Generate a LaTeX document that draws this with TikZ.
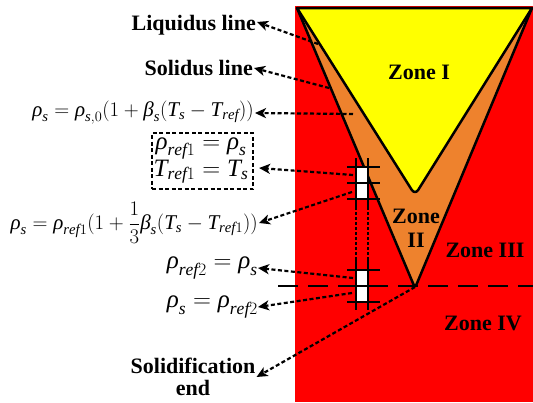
\documentclass[tikz,border=0pt]{standalone}
\usepackage{amsmath}
\usepackage{fontspec}
\setmainfont{Liberation Serif}
\usetikzlibrary{arrows.meta}
\definecolor{zyellow}{RGB}{255,255,0}
\definecolor{zorange}{RGB}{238,130,45}
\definecolor{zred}{RGB}{255,0,0}
\newcommand\gr{\text{\itshape ρ}}
\newcommand\gbt{\text{\itshape β}}
\newcommand\mT{\mathit{T}}
\tikzset{
  lbl/.style={font=\fontsize{22}{24}\selectfont\bfseries, inner sep=1pt},
  eqn/.style={font=\fontsize{21}{24}\selectfont, inner sep=1pt},
  eqbig/.style={font=\fontsize{25}{28}\selectfont, inner sep=0pt},
  zone/.style={font=\fontsize{22}{26}\selectfont\bfseries, align=center, inner sep=0pt},
  dsh/.style={dash pattern=on 4pt off 2.5pt, line width=2.2pt},
  ptr/.style={dsh, -{Stealth[length=11pt,width=10pt,inset=3pt]}},
  outl/.style={line width=2.5pt, line join=round},
  gridl/.style={line width=2.5pt},
}
\begin{document}
\begin{tikzpicture}[x=1pt,y=-1pt]
\useasboundingbox (0,0) rectangle (533,402);
% background regions
\fill[zred] (295,6) rectangle (533,402);
\filldraw[fill=zorange, outl] (297,8) -- (532,8) [rounded corners=4pt] -- (415,288) [sharp corners] -- cycle;
\filldraw[fill=zyellow, outl] (297,8) -- (532,8) [rounded corners=6pt] -- (415,195) [sharp corners] -- cycle;
% dashed horizontal line
\draw[line width=2.5pt, dash pattern=on 20pt off 10pt] (278,286) -- (533,286);
% grid marks
\fill[white] (357,167) rectangle (368,199);
\fill[white] (357,270) rectangle (368,302);
\foreach \yy in {167,183,199,270,286,302}
  \draw[gridl] (347,\yy) -- (380,\yy);
\foreach \xx in {356,368} {
  \draw[gridl] (\xx,158) -- (\xx,207);
  \draw[gridl] (\xx,259) -- (\xx,310);
  \draw[line width=2.2pt, dash pattern=on 2.5pt off 2.5pt] (\xx,207) -- (\xx,259);
}
% zone labels
\node[zone] (z1) at (419,72) {Zone I};
\node[zone] (z2) at (416,228) {Zone\\[-2pt]II};
\node[zone] (z3) at (485,250) {Zone III};
\node[zone] (z4) at (483,323) {Zone IV};
% left labels
\node[lbl, anchor=east] (liq) at (257,25) {Liquidus line};
\node[lbl, anchor=east] (sol) at (254,68) {Solidus line};
\node[eqn, anchor=east] (eq1) at (255,113) {$\gr_{\mathit{s}}=\gr_{\mathit{s},0}(1+\gbt_{\mathit{s}}(\mT_{\mathit{s}}-\mT_{\mathit{ref}}))$};
\node[draw, dsh, minimum width=101pt, minimum height=56pt, inner sep=0pt] (box) at (202.5,161) {};
\node[eqbig, anchor=base] (r1) at (201,149) {$\gr_{\mathit{ref}1}=\gr_{\mathit{s}}$};
\node[eqbig, anchor=base] (r2) at (201,176) {$\mT_{\mathit{ref}1}=\mT_{\mathit{s}}$};
\node[eqn, anchor=east] (eq2) at (259,223) {$\gr_{\mathit{s}}=\gr_{\mathit{ref}1}(1+\dfrac{1}{3}\gbt_{\mathit{s}}(\mT_{\mathit{s}}-\mT_{\mathit{ref}1}))$};
\node[eqbig, anchor=east] (eq3) at (258,268) {$\gr_{\mathit{ref}2}=\gr_{\mathit{s}}$};
\node[eqbig, anchor=east] (eq4) at (258,307) {$\gr_{\mathit{s}}=\gr_{\mathit{ref}2}$};
\node[lbl, align=center] (send) at (193,377) {Solidification\\[-2pt]end};
% arrow start points
\coordinate (p1) at (318,44);
\coordinate (p2) at (329,88);
\coordinate (p3) at (353,114);
\coordinate (p4) at (353,175);
\coordinate (p5) at (352,192);
\coordinate (p6) at (353,278);
\coordinate (p7) at (352,293);
\coordinate (p8) at (415,287);
\draw[ptr] (p1) -- ([yshift=3pt]liq.east);
\draw[ptr] (p2) -- (sol.east);
\draw[ptr] (p3) -- (eq1.east);
\draw[ptr] (p4) -- ([xshift=5pt,yshift=-7pt]box.east);
\draw[ptr] (p5) -- (eq2.east);
\draw[ptr] (p6) -- (eq3.east);
\draw[ptr] (p7) -- (eq4.east);
\draw[ptr] (p8) -- (send.east);
\end{tikzpicture}
\end{document}
